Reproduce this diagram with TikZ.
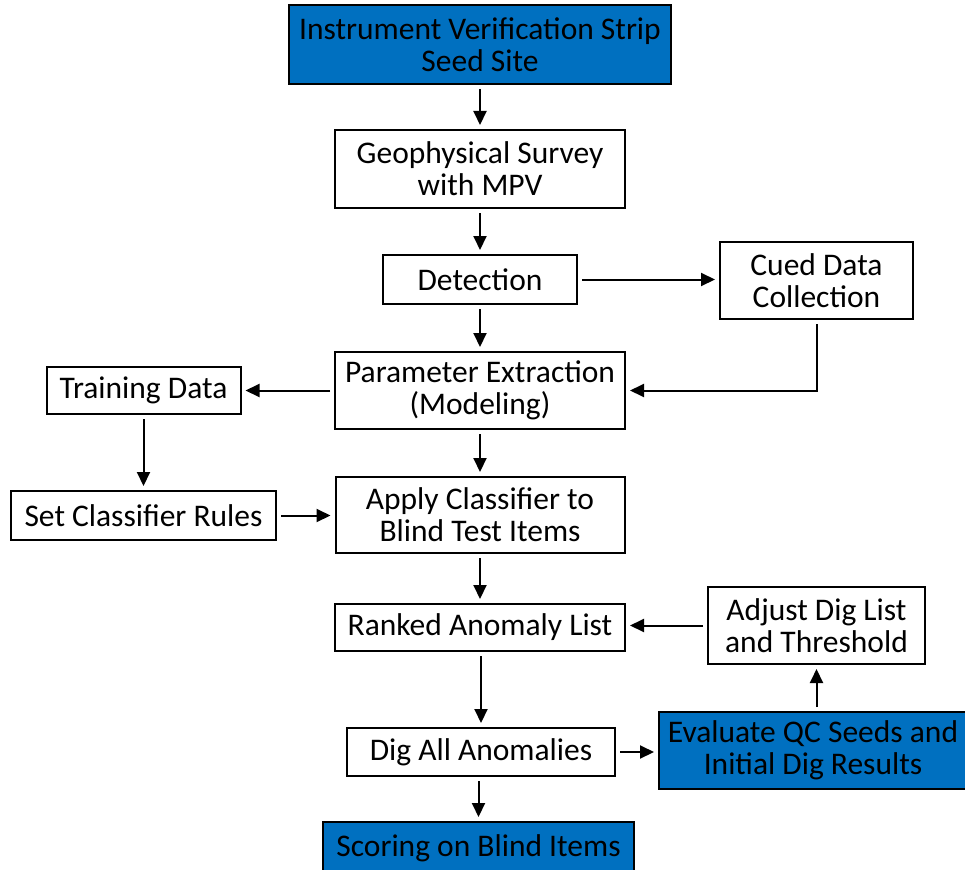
\documentclass[tikz,border=0pt]{standalone}
\usepackage{fontspec}
\setmainfont{Carlito}
\usetikzlibrary{arrows.meta}
\definecolor{ivsblue}{RGB}{0,112,192}

\begin{document}
\begin{tikzpicture}[x=1pt,y=-1pt,
  box/.style={draw,line width=2pt,align=center,inner sep=0pt,
    font=\fontsize{31.5}{32}\selectfont},
  bluebox/.style={box,fill=ivsblue},
  link/.style={line width=2pt,-{Triangle[length=14pt,width=13pt]},
    shorten <=4pt,shorten >=4pt}]
   \useasboundingbox (0,0) rectangle (965,869);
   % main column
   \node[bluebox,minimum width=382pt,minimum height=79pt] (ivs)   at (480,44.5)  {Instrument Verification Strip\\Seed Site};
   \node[box,minimum width=290pt,minimum height=78pt]     (geo)   at (480,169)   {Geophysical Survey\\with MPV};
   \node[box,minimum width=194pt,minimum height=49pt]     (det)   at (480,279.5) {Detection};
   \node[box,minimum width=290pt,minimum height=77pt]     (param) at (480,390.5) {Parameter Extraction\\(Modeling)};
   \node[box,minimum width=289pt,minimum height=76pt]     (apply) at (480,515)   {Apply Classifier to\\Blind Test Items};
   \node[box,minimum width=290pt,minimum height=47pt]     (rank)  at (480,627.5) {Ranked Anomaly List};
   \node[box,minimum width=268pt,minimum height=48pt]     (dig)   at (481,752)   {Dig All Anomalies};
   \node[bluebox,minimum width=311pt,minimum height=52pt] (score) at (478.5,848) {Scoring on Blind Items};
   % side boxes
   \node[box,minimum width=193pt,minimum height=77pt]     (cued)  at (816.5,280.5) {Cued Data\\Collection};
   \node[box,minimum width=194pt,minimum height=47pt]     (train) at (143.5,390.5) {Training Data};
   \node[box,minimum width=265pt,minimum height=49pt]     (rules) at (143.5,515.5) {Set Classifier Rules};
   \node[box,minimum width=217pt,minimum height=77pt]     (adj)   at (816.5,625.5) {Adjust Dig List\\and Threshold};
   \node[bluebox,minimum width=308pt,minimum height=77pt] (eval)  at (813,750.5)   {Evaluate QC Seeds and\\Initial Dig Results};
   % arrows
   \draw[link] (ivs) -- (geo);
   \draw[link] (geo) -- (det);
   \draw[link] (det) -- (param);
   \draw[link] (det) -- (det -| cued.west);
   \draw[link] (cued.south) |- (param.east);
   \draw[link] (param) -- (train);
   \draw[link] (train) -- (rules);
   \draw[link] (rules.east) -- (rules -| apply.west);
   \draw[link] (param) -- (apply);
   \draw[link] (apply) -- (rank);
   \draw[link] (adj.west) -- (adj -| rank.east);
   \draw[link] (rank.south -| dig) -- (dig);
   \draw[link] (dig.east) -- (dig -| eval.west);
   \draw[link] (eval.north -| adj.south) -- (adj.south);
   \draw[link] (dig.south -| score) -- (score);
  \end{tikzpicture}
\end{document}
